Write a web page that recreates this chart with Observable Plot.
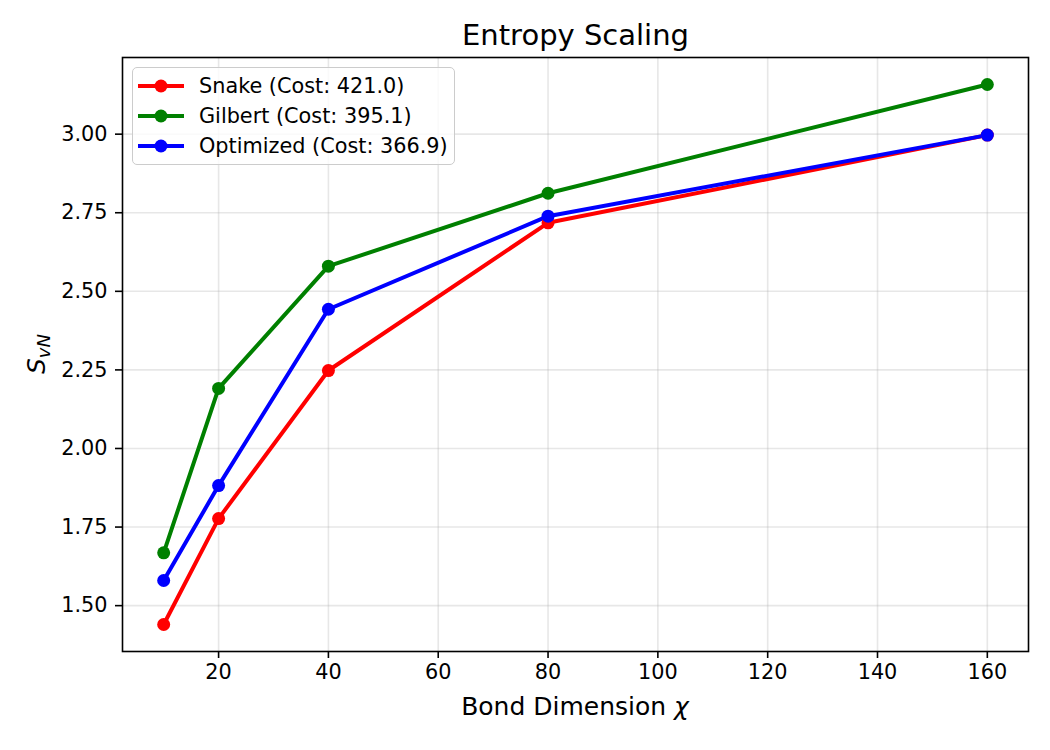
<!DOCTYPE html>
<html>
<head>
<meta charset="utf-8">
<script src="https://cdn.jsdelivr.net/npm/d3@7"></script>
<script src="https://cdn.jsdelivr.net/npm/@observablehq/plot@0.6"></script>
<style>
  body { margin: 0; background: #fff; font-family: "DejaVu Sans", sans-serif; }
  #wrap { position: relative; width: 1050px; height: 750px; }
  #legend { position: absolute; left: 132px; top: 67px; width: 321px; height: 96px;
    border: 1.5px solid #cccccc; border-radius: 5px; background: rgba(255,255,255,0.8); box-sizing: content-box; }
  .row { position: absolute; left: 0; height: 30px; display: flex; align-items: center; font-size: 20.8px; color: #000; white-space: nowrap; }
  .row svg { margin-left: 5px; margin-right: 15px; }
  #ylabel { position: absolute; left: 38px; top: 354px; transform: translate(-50%, -50%) rotate(-90deg);
    font-size: 25px; font-family: "DejaVu Sans", sans-serif; white-space: nowrap; }
  #ylabel sub { font-size: 18px; vertical-align: -5px; }
  #xlabel { position: absolute; left: 575px; top: 706px; transform: translate(-50%, -50%);
    font-size: 25px; font-family: "DejaVu Sans", sans-serif; white-space: nowrap; color: #000; }
</style>
</head>
<body>
<div id="wrap"></div>
<script>
// ---- data ----
const chi = [10, 20, 40, 80, 160];
const seriesNames = ["Snake", "Gilbert", "Optimized"];
const seriesCosts = [421.0, 395.1, 366.9];
const seriesColors = ["#ff0000", "#008000", "#0000ff"];
const snake = [1.44, 1.777, 2.248, 2.718, 2.997];
const gilbert = [1.668, 2.191, 2.580, 2.812, 3.158];
const optimized = [1.580, 1.882, 2.443, 2.739, 2.997];
const xTicks = [20, 40, 60, 80, 100, 120, 140, 160];
const yTicks = [1.5, 1.75, 2.0, 2.25, 2.5, 2.75, 3.0];
const titleText = "Entropy Scaling";
const xLabelText = "Bond Dimension ";
const xLabelSymbol = "\u03c7";

const values = [snake, gilbert, optimized];
const data = [];
seriesNames.forEach((name, i) => {
  chi.forEach((c, j) => data.push({series: name, chi: c, s: values[i][j]}));
});

const allY = values.flat();
const yMin = d3.min(allY), yMax = d3.max(allY);
const yPad = (yMax - yMin) * 0.05;
const xPad = (d3.max(chi) - d3.min(chi)) * 0.05;

const font = "DejaVu Sans, sans-serif";

const chart = Plot.plot({
  width: 1050,
  height: 750,
  marginLeft: 122,
  marginRight: 22,
  marginTop: 57,
  marginBottom: 99,
  style: {fontFamily: font, background: "#fff", color: "#000"},
  x: {domain: [d3.min(chi) - xPad, d3.max(chi) + xPad]},
  y: {domain: [yMin - yPad, yMax + yPad]},
  color: {domain: seriesNames, range: seriesColors},
  marks: [
    Plot.gridX(xTicks, {stroke: "#b0b0b0", strokeOpacity: 0.3, strokeWidth: 1.6}),
    Plot.gridY(yTicks, {stroke: "#b0b0b0", strokeOpacity: 0.3, strokeWidth: 1.6}),
    Plot.axisX(xTicks, {tickSize: 7, tickPadding: 6, fontSize: 20.8, strokeWidth: 1.6, label: null, fill: "#000"}),
    Plot.axisY(yTicks, {tickSize: 7, tickPadding: 8, fontSize: 20.8, strokeWidth: 1.6, label: null, tickFormat: d3.format(".2f"), fill: "#000"}),
    Plot.line(data, {x: "chi", y: "s", z: "series", stroke: "series", strokeWidth: 4}),
    Plot.dot(data, {x: "chi", y: "s", fill: "series", r: 6.5}),
    Plot.frame({stroke: "#000", strokeWidth: 1.6}),
    Plot.text([titleText], {frameAnchor: "top", dy: -22, fontSize: 29, lineAnchor: "middle", fill: "#000"})
  ]
});

const wrap = document.getElementById("wrap");
wrap.appendChild(chart);

// x label (HTML for italic symbol)
const xl = document.createElement("div");
xl.id = "xlabel";
xl.innerHTML = `${xLabelText}<i>${xLabelSymbol}</i>`;
wrap.appendChild(xl);

// y label (HTML for subscript)
const yl = document.createElement("div");
yl.id = "ylabel";
yl.innerHTML = "<i>S</i><sub><i>vN</i></sub>";
wrap.appendChild(yl);

// legend
const leg = document.createElement("div");
leg.id = "legend";
seriesNames.forEach((name, i) => {
  const row = document.createElement("div");
  row.className = "row";
  row.style.top = (3 + i * 30) + "px";
  row.innerHTML = `<svg width="46" height="20"><line x1="0" y1="10" x2="46" y2="10" stroke="${seriesColors[i]}" stroke-width="4"/><circle cx="23" cy="10" r="6.5" fill="${seriesColors[i]}"/></svg><span>${name} (Cost: ${seriesCosts[i].toFixed(1)})</span>`;
  leg.appendChild(row);
});
wrap.appendChild(leg);
</script>
</body>
</html>
